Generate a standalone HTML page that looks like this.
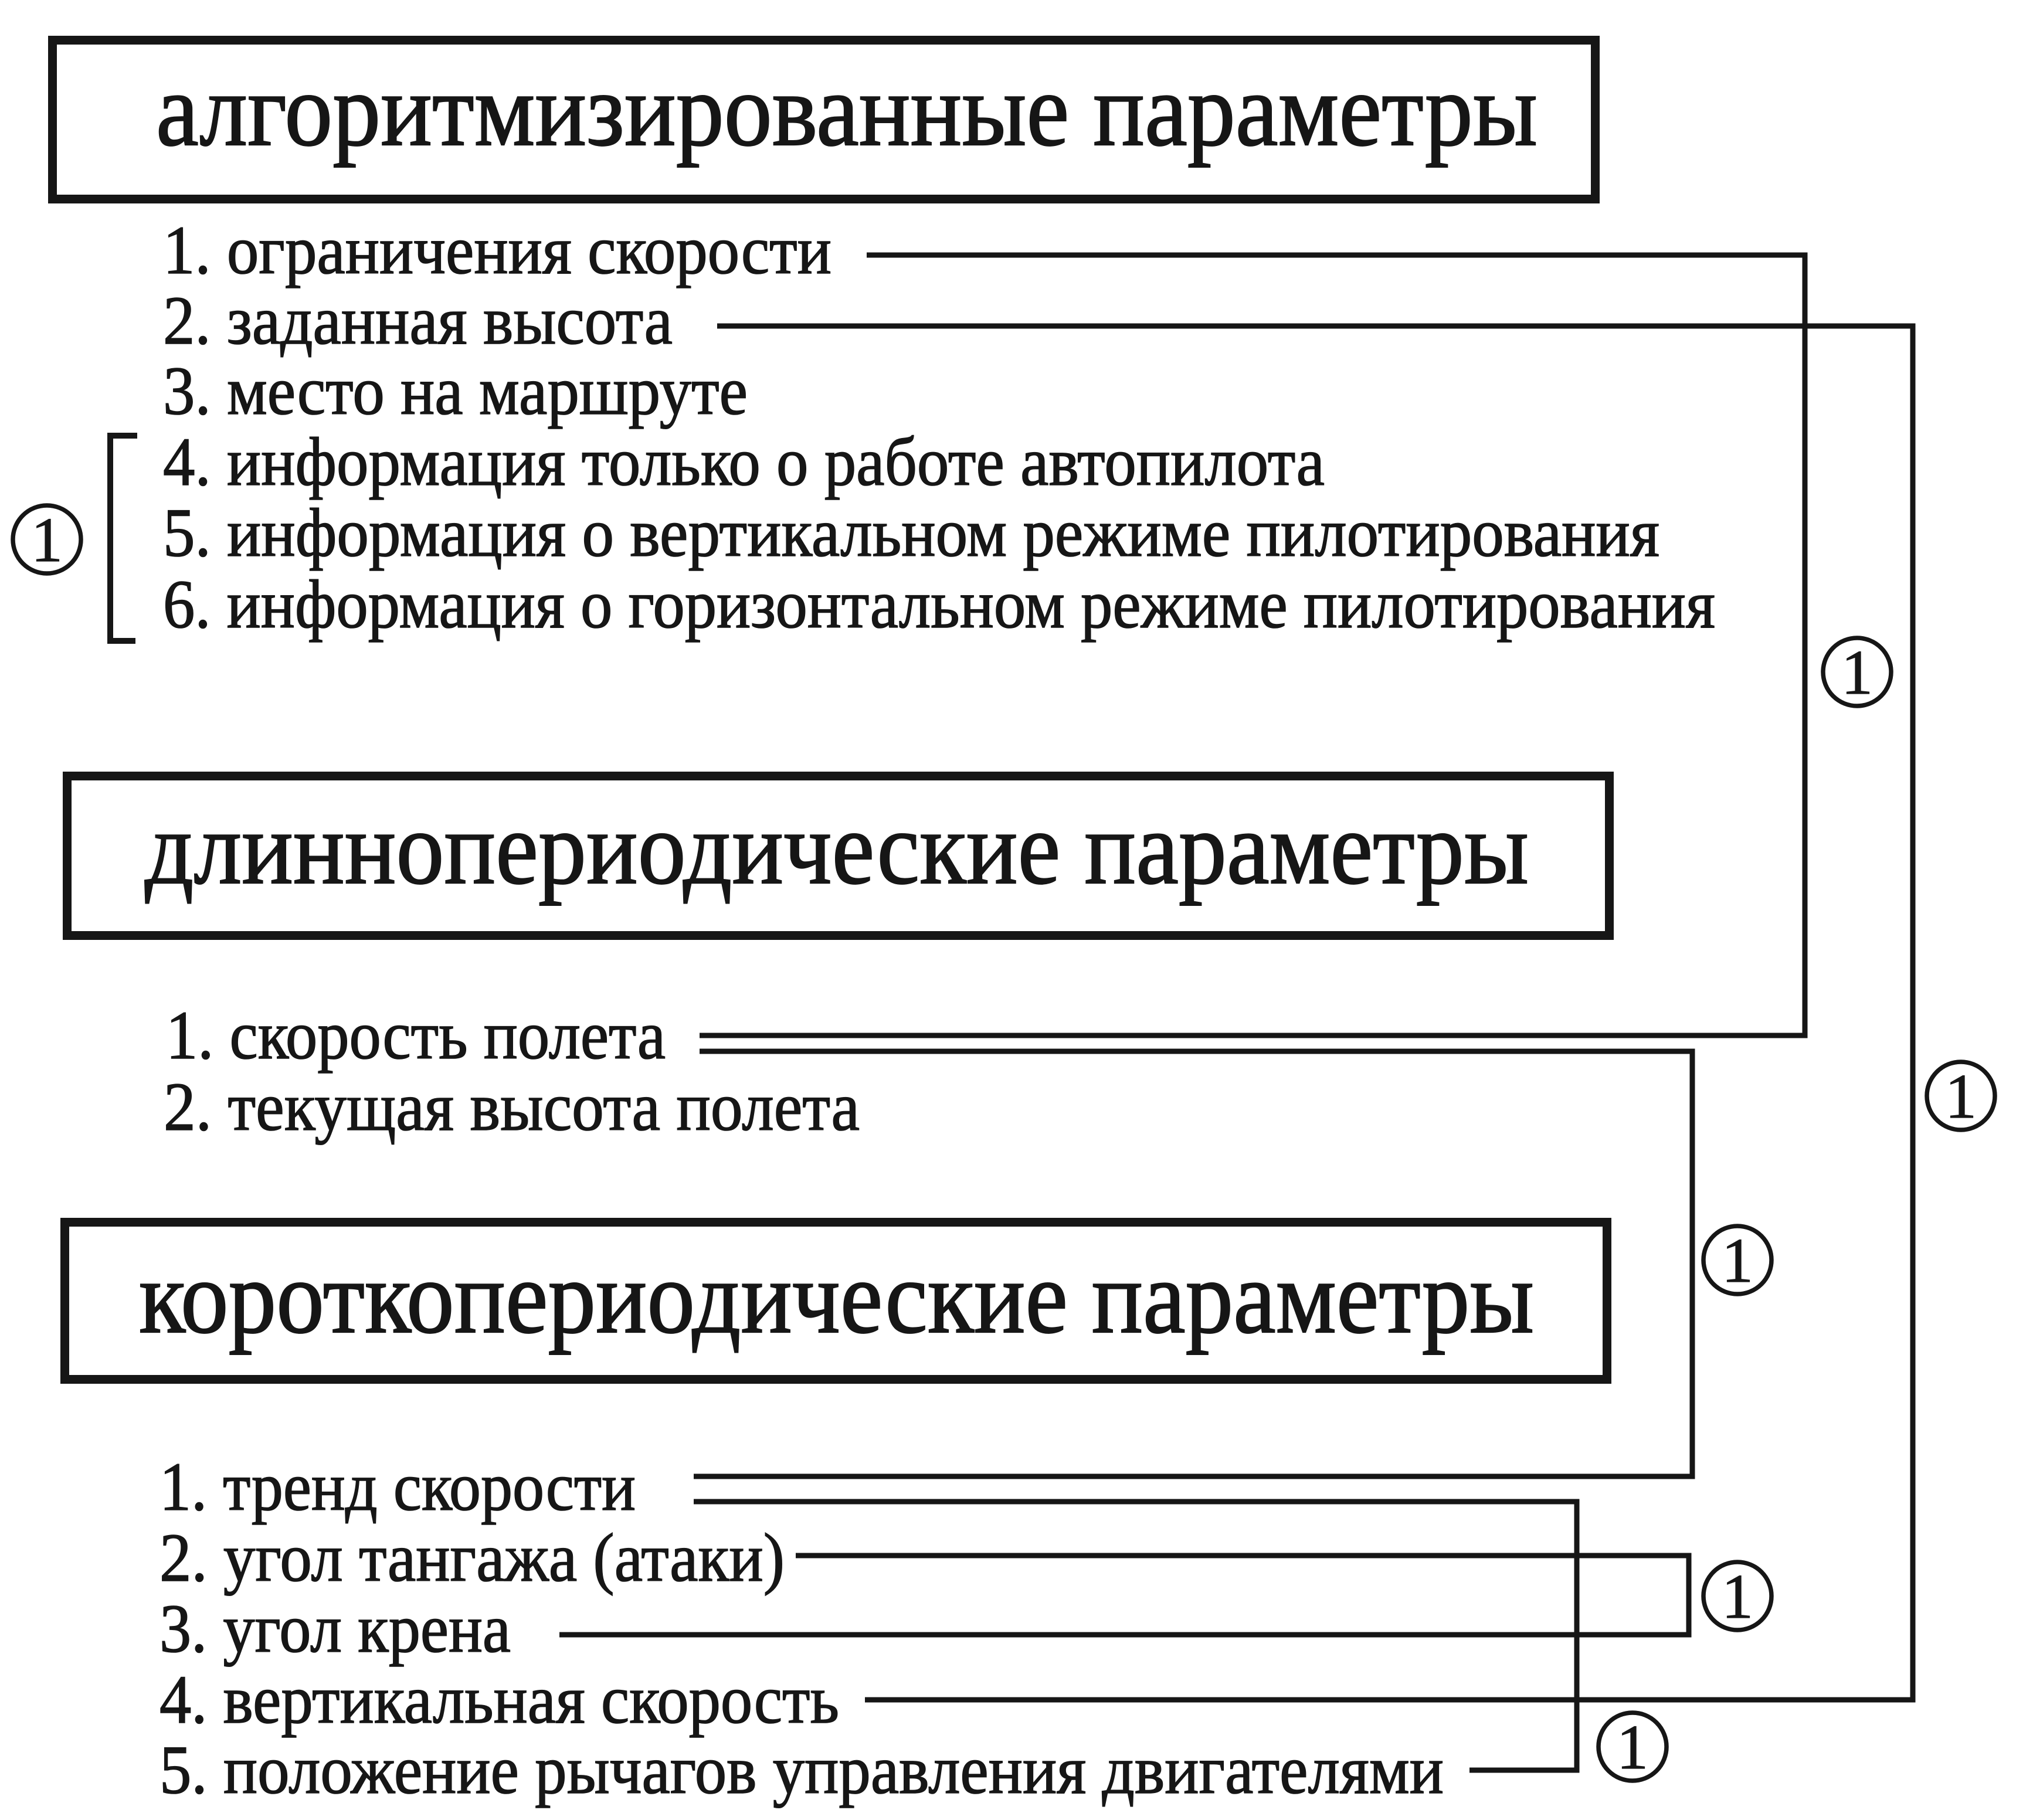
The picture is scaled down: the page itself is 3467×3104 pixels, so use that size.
<!DOCTYPE html>
<html>
<head>
<meta charset="utf-8">
<style>
html,body{margin:0;padding:0;background:#fff;}
body{width:3467px;height:3104px;overflow:hidden;}
svg{display:block;}
text{font-family:"Liberation Serif","DejaVu Serif",serif;fill:#161616;stroke:#161616;}
.t{font-size:178px;stroke-width:2.2px;}
.i{font-size:118px;stroke-width:1.6px;}
.c{font-size:108px;stroke-width:1.2px;}
</style>
</head>
<body>
<svg width="3467" height="3104" viewBox="0 0 3467 3104" xmlns="http://www.w3.org/2000/svg">
  <rect x="0" y="0" width="3467" height="3104" fill="#fff"/>

  <!-- Boxes -->
  <g fill="none" stroke="#161616" stroke-width="15">
    <rect x="89.5" y="68.5" width="2631" height="271"/>
    <rect x="114.5" y="1323.5" width="2630" height="272"/>
    <rect x="110.5" y="2084.5" width="2630" height="268"/>
  </g>

  <!-- Titles -->
  <text class="t" x="266" y="247" textLength="2356" lengthAdjust="spacingAndGlyphs">алгоритмизированные параметры</text>
  <text class="t" x="247" y="1506" textLength="2360" lengthAdjust="spacingAndGlyphs">длиннопериодические параметры</text>
  <text class="t" x="237" y="2272" textLength="2379" lengthAdjust="spacingAndGlyphs">короткопериодические параметры</text>

  <!-- Section 1 items -->
  <text class="i" x="278" y="466" textLength="1140" lengthAdjust="spacingAndGlyphs">1. ограничения скорости</text>
  <text class="i" x="278" y="586" textLength="869" lengthAdjust="spacingAndGlyphs">2. заданная высота</text>
  <text class="i" x="278" y="706" textLength="997" lengthAdjust="spacingAndGlyphs">3. место на маршруте</text>
  <text class="i" x="278" y="827" textLength="1981" lengthAdjust="spacingAndGlyphs">4. информация только о работе автопилота</text>
  <text class="i" x="278" y="948" textLength="2552" lengthAdjust="spacingAndGlyphs">5. информация о вертикальном режиме пилотирования</text>
  <text class="i" x="278" y="1070" textLength="2647" lengthAdjust="spacingAndGlyphs">6. информация о горизонтальном режиме пилотирования</text>

  <!-- Section 2 items -->
  <text class="i" x="283" y="1805" textLength="852" lengthAdjust="spacingAndGlyphs">1. скорость полета</text>
  <text class="i" x="279" y="1927" textLength="1187" lengthAdjust="spacingAndGlyphs">2. текущая высота полета</text>

  <!-- Section 3 items -->
  <text class="i" x="272" y="2575" textLength="812" lengthAdjust="spacingAndGlyphs">1. тренд скорости</text>
  <text class="i" x="272" y="2696" textLength="1066" lengthAdjust="spacingAndGlyphs">2. угол тангажа (атаки)</text>
  <text class="i" x="272" y="2817" textLength="599" lengthAdjust="spacingAndGlyphs">3. угол крена</text>
  <text class="i" x="272" y="2938" textLength="1159" lengthAdjust="spacingAndGlyphs">4. вертикальная скорость</text>
  <text class="i" x="272" y="3058" textLength="2190" lengthAdjust="spacingAndGlyphs">5. положение рычагов управления двигателями</text>

  <!-- Connectors -->
  <g fill="none" stroke="#161616" stroke-width="9" stroke-linejoin="miter" stroke-linecap="butt">
    <polyline points="1478,435 3078,435 3078,1766 1193,1766"/>
    <polyline points="1223,556 3262,556 3262,2899 1475,2899"/>
    <polyline points="1193,1793 2886,1793 2886,2518 1183,2518"/>
    <polyline points="1183,2561 2689,2561 2689,3019 2506,3019"/>
    <polyline points="1357,2653 2880,2653 2880,2788 954,2788"/>
  </g>

  <!-- Bracket left -->
  <g fill="none" stroke="#161616" stroke-width="10">
    <polyline points="234,743 188,743 188,1093 231,1093"/>
  </g>

  <!-- Circled ones -->
  <g fill="none" stroke="#161616" stroke-width="7.5">
    <circle cx="80" cy="920" r="58"/>
    <circle cx="3167" cy="1146" r="58"/>
    <circle cx="3344" cy="1869" r="58"/>
    <circle cx="2963" cy="2149" r="58"/>
    <circle cx="2963" cy="2722" r="58"/>
    <circle cx="2784" cy="2979" r="58"/>
  </g>
  <g text-anchor="middle">
    <text class="c" x="80" y="957">1</text>
    <text class="c" x="3167" y="1183">1</text>
    <text class="c" x="3344" y="1906">1</text>
    <text class="c" x="2963" y="2186">1</text>
    <text class="c" x="2963" y="2759">1</text>
    <text class="c" x="2784" y="3016">1</text>
  </g>
</svg>
</body>
</html>
